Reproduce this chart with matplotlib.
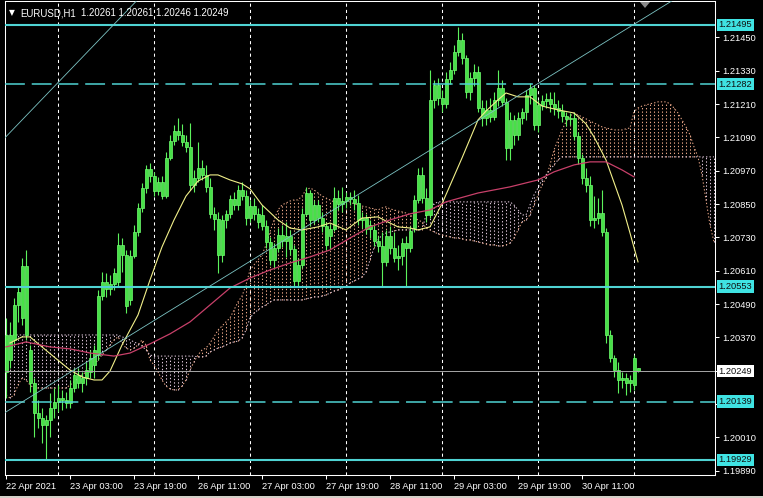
import numpy as np
import matplotlib
matplotlib.use("Agg")
import matplotlib.pyplot as plt
import matplotlib.transforms as mtransforms
from matplotlib.patches import Polygon, Rectangle

plt.rcParams['font.family'] = ['Liberation Sans', 'DejaVu Sans']

# ---------------- data (prices in points, 1 point = 0.00001) ----------------
open_pts = [120246,120379,120361,120487,120440,120627,120325,120206,120098,120080,
120055,120073,120116,120138,120152,120145,120134,120188,120235,120206,
120224,120246,120271,120307,120519,120570,120545,120563,120570,120703,
120667,120505,120663,120750,120836,120908,120977,120951,120897,120930,
120879,121016,121077,121113,121099,121074,121056,120919,120944,120980,
120955,120912,120815,120797,120667,120793,120815,120869,120847,120901,
120879,120800,120843,120815,120811,120771,120714,120649,120692,120739,
120717,120735,120689,120573,120631,120815,120890,120793,120847,120800,
120771,120735,120761,120872,120851,120861,120876,120869,120854,120793,
120800,120761,120757,120717,120699,120642,120735,120692,120656,120663,
120710,120692,120764,120865,120955,120872,120811,121225,121279,121232,
121211,121301,121333,121398,121441,121376,121254,121304,121326,121196,
121160,121189,121164,121225,121268,121218,121052,121153,121099,121160,
121182,121243,121268,121135,121207,121221,121229,121211,121196,121185,
121167,121157,121160,121095,121016,120944,120919,120793,120800,120818,
120750,120379,120296,120253,120217,120224,120206,120199,120261]
high_pts = [120440,120426,120512,120552,120656,120685,120343,120224,120145,120116,
120091,120170,120188,120199,120181,120174,120217,120260,120260,120246,
120282,120325,120343,120541,120606,120602,120595,120620,120746,120728,
120685,120685,120775,120854,120926,120991,120998,120966,120948,120951,
121038,121099,121135,121160,121139,121099,121142,120973,121074,121009,
120991,120944,120840,120822,120811,120829,120883,120894,120919,120930,
120901,120865,120872,120836,120847,120793,120732,120710,120764,120775,
120786,120757,120703,120656,120836,120912,120901,120865,120865,120822,
120786,120779,120912,120901,120912,120894,120894,120901,120883,120822,
120815,120793,120779,120735,120750,120757,120771,120750,120703,120728,
120735,120771,120883,120980,120984,120908,121333,121297,121304,121261,
121326,121362,121423,121488,121466,121387,121326,121355,121347,121225,
121225,121232,121254,121333,121297,121232,121182,121171,121182,121196,
121261,121286,121279,121225,121243,121250,121254,121254,121225,121211,
121182,121178,121182,121110,121031,120980,120951,120879,120872,120901,
120764,120397,120307,120282,120246,120242,120235,120307,120261]
low_pts = [120152,120260,120343,120426,120415,120361,120174,120012,120044,119990,
119929,120012,120080,120102,120109,120116,120116,120174,120188,120174,
120199,120224,120224,120289,120505,120516,120523,120541,120555,120606,
120458,120487,120656,120735,120822,120890,120930,120879,120883,120869,
120872,121009,121063,121081,121059,121038,120901,120894,120930,120937,
120894,120800,120757,120602,120642,120764,120800,120829,120829,120865,
120775,120786,120793,120764,120757,120692,120631,120620,120678,120696,
120660,120667,120552,120555,120620,120807,120771,120779,120786,120750,
120685,120692,120753,120829,120822,120836,120847,120829,120775,120764,
120743,120728,120699,120678,120552,120627,120671,120642,120613,120631,
120552,120678,120750,120854,120854,120786,120800,121196,121207,121182,
121196,121283,121319,121383,121355,121232,121225,121275,121182,121131,
121135,121146,121153,121203,121203,121009,121009,121063,121081,121139,
121153,121211,121117,121110,121189,121196,121182,121171,121160,121146,
121131,121135,121081,120995,120923,120894,120771,120764,120779,120735,
120350,120282,120228,120170,120188,120163,120174,120181,120246]
close_pts = [120379,120289,120487,120534,120627,120379,120206,120098,120080,120055,
120073,120116,120138,120152,120145,120134,120188,120235,120206,120224,
120253,120296,120325,120519,120570,120545,120563,120602,120703,120667,
120483,120663,120750,120836,120908,120977,120951,120897,120930,120879,
121016,121077,121113,121099,121074,121056,120919,120944,120980,120955,
120912,120815,120797,120667,120793,120815,120869,120847,120901,120879,
120800,120843,120815,120786,120771,120714,120649,120692,120739,120717,
120735,120689,120573,120631,120815,120890,120793,120847,120800,120771,
120703,120761,120872,120851,120861,120876,120869,120854,120793,120800,
120761,120775,120717,120699,120642,120735,120692,120656,120663,120710,
120692,120753,120865,120955,120872,120811,121225,121279,121232,121211,
121301,121333,121398,121441,121376,121254,121304,121326,121196,121160,
121189,121164,121225,121268,121218,121052,121153,121099,121160,121182,
121243,121268,121135,121207,121221,121229,121211,121196,121185,121167,
121157,121160,121095,121016,120944,120919,120793,120800,120818,120750,
120379,120296,120253,120217,120224,120206,120217,120296,120249]

# Ichimoku Senkou spans (bar index 0..177, extends 26 bars past last bar)
span_a_pts = ([120163,120152,120163,120199,120224,120217,120199] + [120188]*9 +
    [120199,120210,120224,120235,120246,120260,120271,120289,120307,120325,120343,120361,120372] +
    [120350,120332,120325,120332,120343,120361,120343,120289,120271,120246,120217,120195,
     120185,120181,120181,120195,120217,120253,120282] +
    [120307,120325,120332,120350,120372,120397,120411,120426,120440,120469,120498,120519,
     120559,120613,120631,120649,120667,120703,120750,120793,120829,120847,120854,120861,
     120865,120865,120879,120901,120908,120901,120890,120879,120872,120865] +
    [120858]*5 +
    [120851,120847,120843,120840,120836,120833,120829,120836,120840,120833,120829,120825,
     120822,120818,120811,120800,120793,120786] +
    [120764,120757,120750,120743,120739,120735,120732,120728,120728,120725,120721,120721,
     120717,120714,120710,120707,120703,120703,120699,120699,120703,120710,120728,120757,120786] +
    [120793,120811,120847,120883,120919,120944,120991,121045,121081,121117,121146,121167,
     121178,121171,121164,121157,121149,121142,121135,121128,121124,121121,121117,121117,
     121117,121121,121124] +
    [121182,121196,121203,121207,121211,121214,121218,121218,121218,121211,121196,121178,
     121153,121128,121099,121056,121020,120955,120865,120775,120714])
span_b_pts = ([120379]*29 +
    [120372,120368,120361,120354,120347,120339,120325,120307] +
    [120303]*11 +
    [120300,120300,120303,120318,120325,120332,120336,120343,120350,120354,120357,120368,
     120397,120440,120458,120469,120480,120487,120498] +
    [120505]*8 +
    [120509,120512,120516,120516,120519,120523,120530,120537,120541,120548,120555,120566,
     120573,120581,120588,120606,120649,120692,120721,120739,120746,120750,120753] +
    [120757]*7 +
    [120811,120836,120851] +
    [120858]*19 +
    [120847,120829,120811,120811,120847,120883,120908,120937,120955,120973,120991,121009] +
    [121020]*39)

# moving averages (sampled at bar indices)
ma_fast_idx = [1,4,6,9,12,16,19,22,24,26,29,33,36,39,42,45,48,51,53,56,59,61,64,68,71,74,78,
               81,85,89,93,95,98,101,103,106,109,114,118,120,123,125,128,131,134,138,142,145,
               147,150,154,156,158]
ma_fast_pts = [120350,120372,120372,120336,120300,120253,120228,120217,120217,120249,
               120343,120451,120577,120696,120793,120879,120933,120955,120955,120937,
               120923,120905,120847,120793,120764,120757,120768,120782,120757,120800,
               120804,120789,120768,120764,120757,120768,120851,121016,121153,121185,
               121225,121250,121236,121236,121203,121189,121178,121139,121092,121009,
               120847,120746,120642]
ma_slow_idx = [0,5,11,16,21,27,31,36,41,46,51,56,61,66,71,76,81,86,91,96,101,106,110,118,
               126,133,137,142,146,150,154,157]
ma_slow_pts = [120336,120354,120336,120329,120314,120303,120314,120347,120383,120426,
               120487,120548,120584,120613,120638,120660,120685,120728,120768,120793,
               120815,120829,120858,120890,120912,120937,120966,120991,121002,121002,
               120973,120948]

solid_levels = [1.21495, 1.20553, 1.19929]
dashed_levels = [1.21282, 1.20139]
bid_price = 1.20249

trend1_idx = [-1.25, 30.0]
trend1_px = [1.21074, 1.21542]
trend2_idx = [0.0, 150.0]
trend2_px = [1.20102, 1.21435]

separator_idx = [13, 37, 61, 85, 109, 133, 157]
xtick_idx = [0, 16, 32, 48, 64, 80, 96, 112, 128, 144]
xtick_labels = ["22 Apr 2021", "23 Apr 03:00", "23 Apr 19:00", "26 Apr 11:00",
                "27 Apr 03:00", "27 Apr 19:00", "28 Apr 11:00", "29 Apr 03:00",
                "29 Apr 19:00", "30 Apr 11:00"]
ytick_vals = [1.19890, 1.20010, 1.20130, 1.20250, 1.20370, 1.20490, 1.20610, 1.20730,
              1.20850, 1.20970, 1.21090, 1.21210, 1.21330, 1.21450]
title_symbol = "EURUSD,H1"
title_prices = "1.20261 1.20261 1.20246 1.20249"

# ---------------- figure ----------------
W, H = 763, 498
fig = plt.figure(figsize=(W / 100, H / 100), dpi=100, facecolor='black')
L, R, T, B = 5, 715, 1, 475
ax = fig.add_axes([L / W, 1 - B / H, (R - L) / W, (B - T) / H])
ax.set_facecolor('black')
ax.set_xlim(-0.25, 177.25)
ax.set_ylim(1.19875, 1.21581)

o = np.array(open_pts) / 1e5
h = np.array(high_pts) / 1e5
l = np.array(low_pts) / 1e5
c = np.array(close_pts) / 1e5
idx = np.arange(len(c))

# cloud
sa = np.array(span_a_pts) / 1e5
sb = np.array(span_b_pts) / 1e5
ci = np.arange(len(sa))
sandy, thistle = '#E8A586', '#DCC4D8'
cols = [sandy if a > b else thistle for a, b in zip(sa, sb)]
ax.vlines(ci, np.minimum(sa, sb), np.maximum(sa, sb), colors=cols,
          linestyles=(0, (1.3, 2.0)), lw=0.75, zorder=2)
ax.plot(ci, sa, color=sandy, lw=0.75, ls=(0, (1.3, 2.0)), zorder=2)
ax.plot(ci, sb, color=thistle, lw=0.75, ls=(0, (1.3, 2.0)), zorder=2)

# separators
ax.vlines(separator_idx, 1.19875, 1.21581, colors='white', linestyles=(0, (3, 3)),
          lw=0.75, zorder=1.5)

# candles
ax.vlines(idx, l, h, color='#5CF25C', lw=0.8, zorder=4)
body_lo = np.minimum(o, c)
body_h = np.maximum(np.abs(c - o), 0.00002)
ax.bar(idx, body_h, bottom=body_lo, width=0.75, color='#48E048', edgecolor='#70FF70',
       linewidth=0.5, zorder=4.5)

# moving averages
ax.plot(ma_fast_idx, np.array(ma_fast_pts) / 1e5, color='#F2F08A', lw=0.8, zorder=5)
ax.plot(ma_slow_idx, np.array(ma_slow_pts) / 1e5, color='#C8406A', lw=0.9, zorder=5)

# levels
for lv in solid_levels:
    ax.axhline(lv, color='#4FD3D3', lw=1.5, zorder=6)
for lv in dashed_levels:
    ax.axhline(lv, color='#4FD3D3', lw=1.1, ls=(0, (13, 4.5)), zorder=6)
ax.axhline(bid_price, color='#A8A8A8', lw=0.7, zorder=6)

# trend lines
ax.axline((trend1_idx[0], trend1_px[0]), (trend1_idx[1], trend1_px[1]),
          color='#7CC4C4', lw=0.6, zorder=6)
ax.axline((trend2_idx[0], trend2_px[0]), (trend2_idx[1], trend2_px[1]),
          color='#7CC4C4', lw=0.6, zorder=6)

# axes styling
for s in ax.spines.values():
    s.set_color('white')
    s.set_linewidth(0.75)
ax.yaxis.tick_right()
ax.set_yticks(ytick_vals)
hidden = set(round(v, 5) for v in [1.20130, 1.20250])
ax.set_yticklabels(["" if round(v, 5) in hidden else f"{v:.5f}" for v in ytick_vals])
ax.set_xticks(xtick_idx)
ax.set_xticklabels(xtick_labels, ha='left')
ax.tick_params(axis='both', colors='white', direction='out', length=3, width=0.75,
               labelsize=6.7, pad=2)

for lv in solid_levels + dashed_levels:
    ax.annotate(f"{lv:.5f}", xy=(1, lv), xycoords=ax.get_yaxis_transform(),
                xytext=(2.5, 0), textcoords='offset points', ha='left', va='center',
                fontsize=6.7, color='#101010', annotation_clip=False, zorder=10,
                bbox=dict(boxstyle='square,pad=0.2', fc='#3FE3E3', ec='none'))
ax.annotate(f"{bid_price:.5f}", xy=(1, bid_price), xycoords=ax.get_yaxis_transform(),
            xytext=(2.5, 0), textcoords='offset points', ha='left', va='center',
            fontsize=6.7, color='#101010', annotation_clip=False, zorder=10,
            bbox=dict(boxstyle='square,pad=0.2', fc='white', ec='none'))

# title
fig.text(9 / W, 1 - 13 / H, "▼", color='white', fontsize=5.5, va='center',
         family='DejaVu Sans')
fig.text(20 / W, 1 - 13 / H, title_symbol, color='white', fontsize=6.9, va='center')
fig.text(81 / W, 1 - 13 / H, title_prices, color='white', fontsize=6.9, va='center')

# chart shift marker
fig.patches.append(Polygon([[640, H - 2], [650, H - 2], [645, H - 8]], closed=True,
                           fc='#8A8A8A', ec='none', transform=mtransforms.IdentityTransform()))
fig.patches.append(Rectangle((0, 0), W, 2, fc='#D4D0C8', ec='none',
                             transform=mtransforms.IdentityTransform()))

fig.savefig('out.png', dpi=100, facecolor='black')
